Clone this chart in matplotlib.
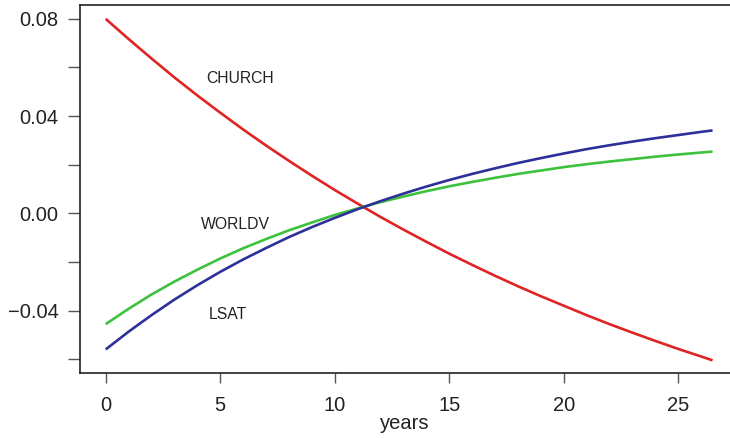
import matplotlib
matplotlib.use("Agg")
import matplotlib.pyplot as plt
from matplotlib.ticker import MultipleLocator

years = [0, 1, 2, 3, 4, 5, 6, 7, 8, 9, 10, 11, 12, 13, 14, 15, 16, 17, 18,
         19, 20, 21, 22, 23, 24, 25, 26, 26.5]
church = [0.0800, 0.0717, 0.0637, 0.0559, 0.0485, 0.0414, 0.0345, 0.0279,
          0.0216, 0.0155, 0.0096, 0.0040, -0.0015, -0.0067, -0.0117, -0.0166,
          -0.0212, -0.0257, -0.0300, -0.0341, -0.0380, -0.0419, -0.0456,
          -0.0491, -0.0525, -0.0558, -0.0589, -0.0605]
lsat = [-0.0560, -0.0487, -0.0419, -0.0355, -0.0296, -0.0241, -0.0190,
        -0.0143, -0.0098, -0.0057, -0.0019, 0.0017, 0.0050, 0.0081, 0.0110,
        0.0137, 0.0162, 0.0185, 0.0207, 0.0227, 0.0246, 0.0264, 0.0280,
        0.0295, 0.0309, 0.0322, 0.0335, 0.0341]
worldv = [-0.0456, -0.0393, -0.0334, -0.0281, -0.0232, -0.0186, -0.0144,
          -0.0106, -0.0070, -0.0038, -0.0007, 0.0020, 0.0046, 0.0069, 0.0091,
          0.0111, 0.0129, 0.0146, 0.0162, 0.0176, 0.0190, 0.0202, 0.0213,
          0.0223, 0.0233, 0.0242, 0.0250, 0.0254]

labels = ["CHURCH", "WORLDV", "LSAT"]
label_x = [5.85, 5.66, 5.35]
label_y = [0.0556, -0.0046, -0.0415]

plt.rcParams['font.family'] = ['Liberation Sans', 'DejaVu Sans']

fig = plt.figure(figsize=(7.30, 4.38), dpi=100)
ax = fig.add_axes([80.3 / 730, (438 - 373) / 438, (729.5 - 80.3) / 730, 368 / 438])

ax.plot(years, church, color="#e02424", lw=1.9, solid_capstyle="butt")
ax.plot(years, worldv, color="#3cc23c", lw=1.9, solid_capstyle="butt")
ax.plot(years, lsat, color="#2e309a", lw=1.9, solid_capstyle="butt")

for t, x, y in zip(labels, label_x, label_y):
    ax.text(x, y, t, ha="center", va="center", fontsize=11.3, color="#222222")

ax.set_xlim(-1.109, 27.24)
ax.set_ylim(-0.0657, 0.0857)

ax.xaxis.set_major_locator(MultipleLocator(5))
ax.yaxis.set_major_locator(MultipleLocator(0.04))
ax.yaxis.set_minor_locator(MultipleLocator(0.02))
ax.set_yticks([0.08, 0.04, 0.0, -0.04])
ax.set_yticklabels(["0.08", "0.04", "0.00", "\u22120.04"])

ax.tick_params(axis="y", which="both", direction="out", length=8.6, width=1.0,
               color="#555555", labelsize=14.5, pad=7, labelcolor="#222222")
ax.tick_params(axis="x", which="major", direction="out", length=7.4, width=1.0,
               color="#555555", labelsize=14.5, pad=9.5, labelcolor="#222222")

ax.set_xlabel("years", fontsize=14.5, color="#222222", labelpad=-1)

for s in ["left", "bottom", "top"]:
    ax.spines[s].set_linewidth(1.2)
    ax.spines[s].set_color("#222222")
ax.spines["right"].set_visible(False)

fig.savefig("out.png", dpi=100)
